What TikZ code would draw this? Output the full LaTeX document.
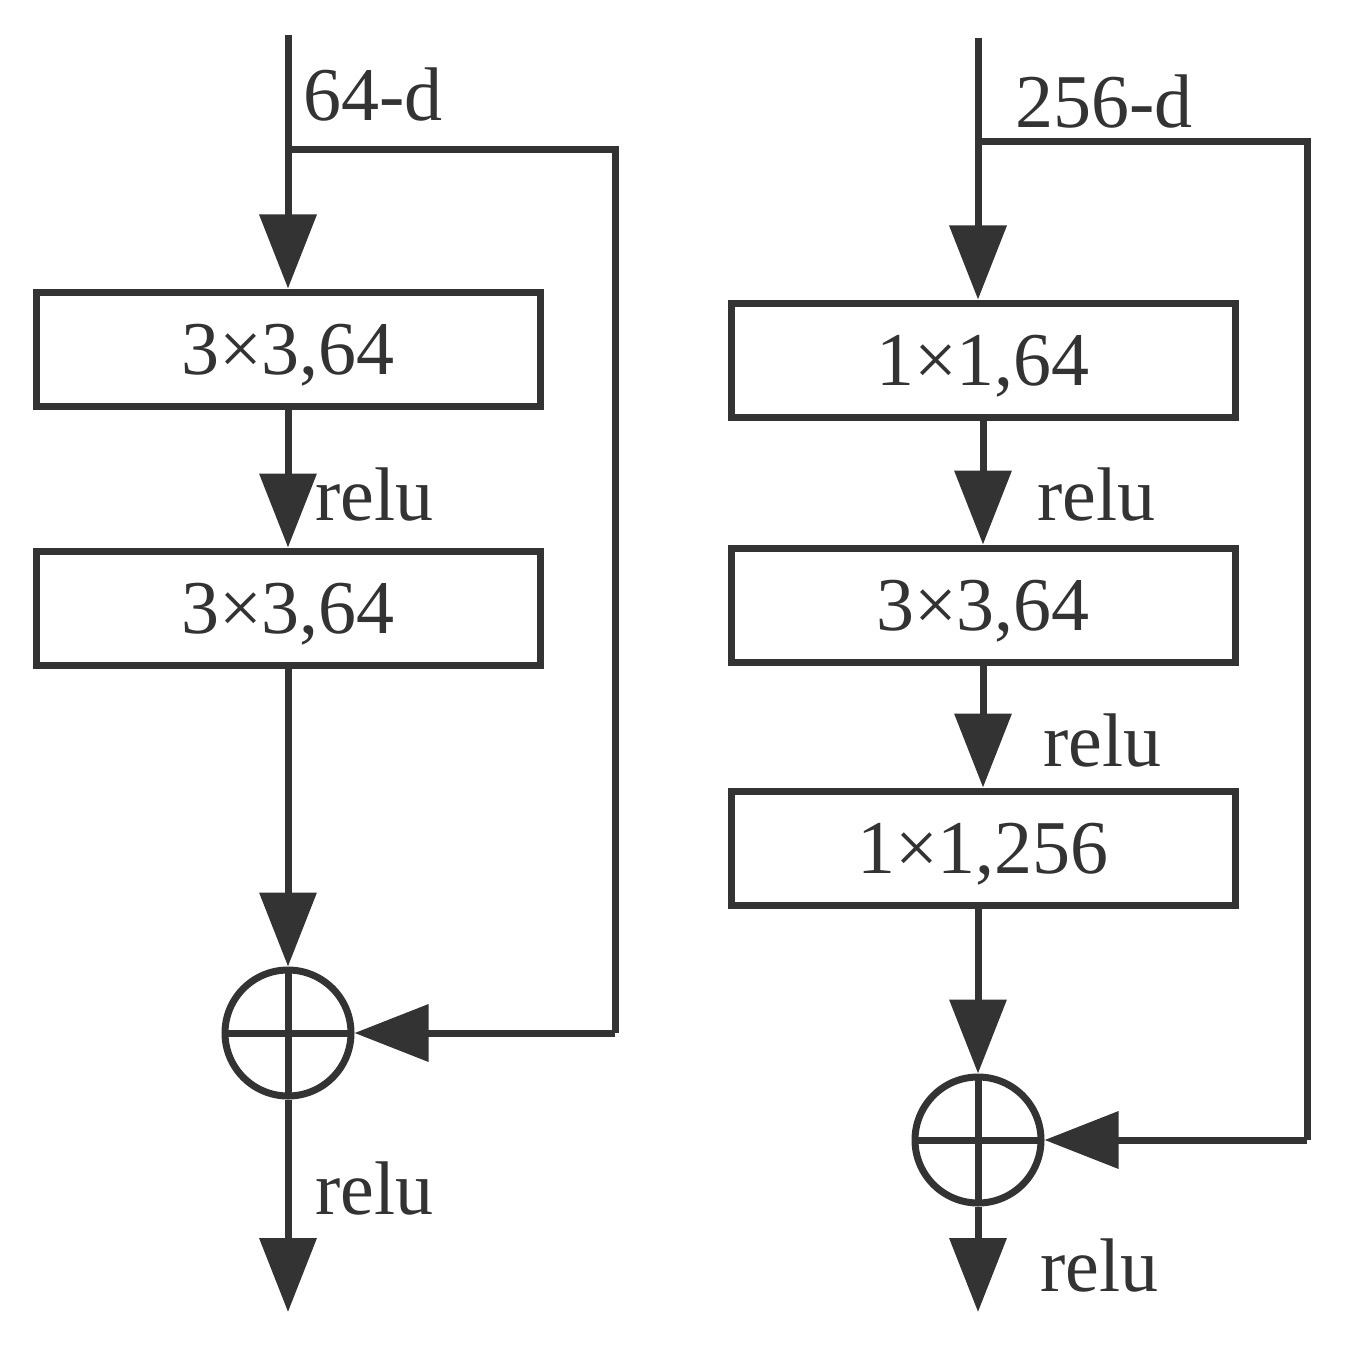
\documentclass[tikz,border=0pt]{standalone}
\usepackage{fontspec}
\setmainfont{Liberation Serif}
\usetikzlibrary{arrows.meta}
\definecolor{ink}{HTML}{333333}
\begin{document}
\begin{tikzpicture}[x=0.5pt,y=-0.5pt,
  every node/.style={text=ink,font=\fontsize{38}{42}\selectfont},
  line/.style={draw=ink,line width=3.5pt},
  arr/.style={line,-{Triangle[length=37pt,width=28pt]}},
  box/.style={draw=ink,line width=3.5pt,minimum width=252pt,minimum height=57pt,inner sep=0pt,text depth=-2pt},
  sum/.style={circle,draw=ink,line width=3.5pt,minimum size=63pt,inner sep=0pt,
    path picture={\draw[ink,line width=3.5pt] (path picture bounding box.north)--(path picture bounding box.south) (path picture bounding box.west)--(path picture bounding box.east);}},
  lab/.style={anchor=west,inner sep=0pt}]
\useasboundingbox (0,0) rectangle (1348,1348);
% left
\coordinate (lin) at (288,35);
\coordinate (lsplit) at (288,150);
\coordinate (lc1) at (615,150);
\coordinate (lc2) at (615,1033);
\coordinate (lout) at (288,1312);
\node[box] (lb1) at (288,349) {3×3,64};
\node[box] (lb2) at (288,608) {3×3,64};
\node[sum] (ls) at (288,1033) {};
\draw[line] (lin)--(lsplit);
\draw[arr] (lsplit)--(lb1.north);
\draw[arr] (lb1)--(lb2);
\draw[arr] (lb2)--(ls);
\draw[line] (lsplit)--(lc1)--(lc2);
\draw[arr] (lc2)--(ls);
\draw[arr] (ls)--(lout);
\node[lab] (t1) at (303,95) {64-d};
\node[lab] (t2) at (315,495) {relu};
\node[lab] (t3) at (315,1188) {relu};
% right
\coordinate (rin) at (978,38);
\coordinate (rsplit) at (978,142);
\coordinate (rc1) at (1307,142);
\coordinate (rc2) at (1307,1140);
\coordinate (rout) at (978,1312);
\node[box] (rb1) at (983,360) {1×1,64};
\node[box] (rb2) at (983,605) {3×3,64};
\node[box] (rb3) at (983,848) {1×1,256};
\node[sum] (rs) at (978,1140) {};
\draw[line] (rin)--(rsplit);
\draw[arr] (rsplit)--(rsplit|-rb1.north);
\draw[arr] (rb1)--(rb2);
\draw[arr] (rb2)--(rb3);
\draw[arr] (rb3.south-|rs)--(rs);
\draw[line] (rsplit)--(rc1)--(rc2);
\draw[arr] (rc2)--(rs);
\draw[arr] (rs)--(rout);
\node[lab] (t4) at (1015,102) {256-d};
\node[lab] (t5) at (1037,495) {relu};
\node[lab] (t6) at (1043,740) {relu};
\node[lab] (t7) at (1040,1265) {relu};
\end{tikzpicture}
\end{document}
